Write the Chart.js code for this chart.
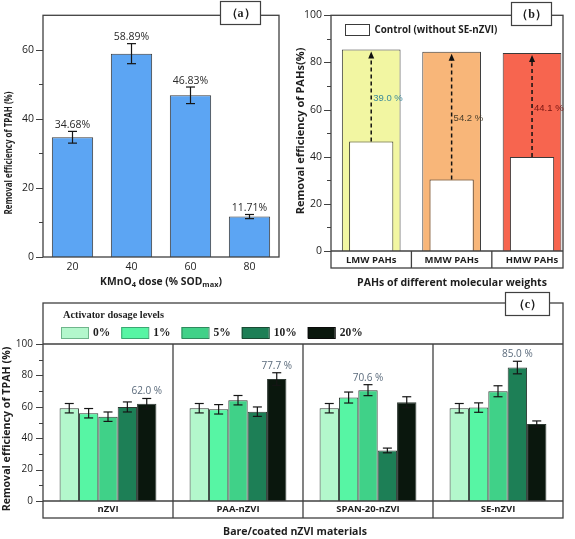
<!DOCTYPE html>
<html>
<head>
<meta charset="utf-8">
<title>TPAH removal</title>
<script src="https://cdn.jsdelivr.net/npm/chart.js@4.4.0/dist/chart.umd.min.js"></script>
<style>
  body { margin: 0; background: #fff; width: 575px; height: 539px; position: relative; overflow: hidden; }
  canvas { position: absolute; }
  #chartA { left: 0; top: 0; }
  #chartB { left: 285px; top: 0; }
  #chartC { left: 0; top: 290px; }
</style>
</head>
<body>
<canvas id="chartA" width="290" height="290"></canvas>
<canvas id="chartB" width="290" height="290"></canvas>
<canvas id="chartC" width="575" height="249"></canvas>
<script>
// (a) KMnO4 dose
const doseLabels = ['20', '40', '60', '80'];
const tpahRemoval = [34.68, 58.89, 46.83, 11.71];
const tpahError = [1.7, 2.9, 2.4, 0.6];

// (b) PAHs of different molecular weights
const pahGroups = ['LMW PAHs', 'MMW PAHs', 'HMW PAHs'];
const pahWithSE = [85.5, 84.5, 84.0];
const pahControl = [46.5, 30.3, 39.9];

// (c) bare / coated nZVI, one array per activator dosage level
const materials = ['nZVI', 'PAA-nZVI', 'SPAN-20-nZVI', 'SE-nZVI'];
const dosageLevels = ['0%', '1%', '5%', '10%', '20%'];
const dose0 = [59.1, 59.1, 59.1, 59.1];
const dose1 = [55.9, 58.4, 65.9, 59.5];
const dose5 = [53.7, 64.2, 70.6, 69.9];
const dose10 = [59.9, 56.9, 32.2, 85.0];
const dose20 = [62.0, 77.7, 62.9, 49.0];
const err0 = [3, 3, 3, 3];
const err1 = [3, 3, 3.5, 3];
const err5 = [3, 3, 3.5, 3.5];
const err10 = [3.2, 3, 1.5, 4];
const err20 = [3.3, 4, 3.5, 2];

const SANS = "'Open Sans', 'DejaVu Sans', sans-serif";
const SERIF = "'Liberation Serif', 'Times New Roman', serif";
const LINE = '#404040';
const TEXT = '#1e1e1e';

// text helper: segments may be subscripts; width fits the size,
// or squeezes the text when a size is given too
function drawRich(ctx, segs, cx, cy, o) {
  const measure = size => segs.reduce((w, s) => {
    ctx.font = `${o.weight} ${s.sub ? size * 0.72 : size}px ${o.family}`;
    return w + ctx.measureText(s.t).width;
  }, 0);
  let size = o.size, sx = 1;
  if (o.width && !o.size) size = 10 * o.width / measure(10);
  if (o.width && o.size) sx = o.width / measure(o.size);
  const total = measure(size);
  ctx.save();
  ctx.translate(cx, cy);
  if (o.rotate) ctx.rotate(-Math.PI / 2);
  ctx.scale(sx, 1);
  ctx.fillStyle = o.color || TEXT;
  ctx.textBaseline = 'middle';
  ctx.textAlign = 'left';
  let x = o.align === 'left' ? 0 : -total / 2;
  segs.forEach(s => {
    ctx.font = `${o.weight} ${s.sub ? size * 0.72 : size}px ${o.family}`;
    ctx.fillText(s.t, x, s.sub ? size * 0.3 : 0);
    x += ctx.measureText(s.t).width;
  });
  ctx.restore();
}

function drawTag(ctx, text, x, y, w, h) {
  ctx.save();
  ctx.fillStyle = '#fff';
  ctx.fillRect(x, y, w, h);
  ctx.strokeStyle = LINE;
  ctx.lineWidth = 1.2;
  ctx.strokeRect(x + 0.5, y + 0.5, w, h);
  ctx.fillStyle = TEXT;
  ctx.font = `bold 12px ${SERIF}`;
  ctx.textAlign = 'center';
  ctx.textBaseline = 'middle';
  ctx.fillText(text, x + w / 2 + 0.5, y + h / 2 + 1);
  ctx.restore();
}

function line(ctx, x1, y1, x2, y2) {
  ctx.beginPath();
  ctx.moveTo(x1, y1);
  ctx.lineTo(x2, y2);
  ctx.stroke();
}

function drawYTicks(chart, majorStep) {
  const y = chart.scales.y, ctx = chart.ctx, left = chart.chartArea.left;
  ctx.save();
  ctx.strokeStyle = LINE;
  ctx.lineWidth = 1;
  y.ticks.forEach(t => {
    if (t.value === y.max && y.max % majorStep !== 0) return;
    const py = Math.round(y.getPixelForValue(t.value)) + 0.5;
    const len = t.value % majorStep === 0 ? 7 : 4;
    line(ctx, left - len, py, left, py);
  });
  ctx.restore();
}

const errorBarPlugin = {
  id: 'errorBars',
  afterDatasetsDraw(chart) {
    const ctx = chart.ctx, yScale = chart.scales.y;
    ctx.save();
    ctx.strokeStyle = '#151515';
    ctx.lineWidth = 1.2;
    chart.data.datasets.forEach((ds, di) => {
      if (!ds.errors) return;
      chart.getDatasetMeta(di).data.forEach((bar, i) => {
        const v = ds.data[i], e = ds.errors[i];
        const top = yScale.getPixelForValue(v + e), bot = yScale.getPixelForValue(v - e);
        line(ctx, bar.x, top, bar.x, bot);
        line(ctx, bar.x - 4.5, top, bar.x + 4.5, top);
        line(ctx, bar.x - 4.5, bot, bar.x + 4.5, bot);
      });
    });
    ctx.restore();
  }
};

const hiddenGrid = { display: false, drawTicks: false };

// ---------- (a) ----------
new Chart(document.getElementById('chartA'), {
  type: 'bar',
  data: {
    labels: doseLabels,
    datasets: [{
      data: tpahRemoval,
      errors: tpahError,
      backgroundColor: '#5ca5f3',
      borderColor: '#3a3a3a',
      borderWidth: 1,
      barPercentage: 0.7,
      categoryPercentage: 1
    }]
  },
  options: {
    responsive: false,
    animation: false,
    layout: { padding: { top: 14, right: 11, left: 0, bottom: 0 } },
    plugins: { legend: { display: false }, tooltip: { enabled: false } },
    scales: {
      x: {
        grid: hiddenGrid, border: { display: false },
        ticks: { padding: 4, color: TEXT, font: { family: SANS, size: 10.5 } },
        afterFit: s => { s.height = 33; }
      },
      y: {
        min: 0, max: 70,
        grid: hiddenGrid, border: { display: false },
        ticks: { stepSize: 10, padding: 9, color: TEXT, font: { family: SANS, size: 10.5 },
                 callback: v => (v % 20 === 0 ? v : '') },
        afterFit: s => { s.width = 43; }
      }
    }
  },
  plugins: [errorBarPlugin, {
    id: 'decorA',
    afterDraw(chart) {
      const ctx = chart.ctx, a = chart.chartArea, y = chart.scales.y;
      ctx.save();
      ctx.strokeStyle = LINE;
      ctx.lineWidth = 1.3;
      ctx.strokeRect(a.left, a.top, a.right - a.left, a.bottom - a.top);
      ctx.restore();
      drawYTicks(chart, 20);
      // value labels above the error bars
      const meta = chart.getDatasetMeta(0);
      ctx.save();
      ctx.fillStyle = '#2a2a2a';
      ctx.font = `10.5px ${SANS}`;
      ctx.textAlign = 'center';
      ctx.textBaseline = 'bottom';
      meta.data.forEach((bar, i) => {
        const top = y.getPixelForValue(tpahRemoval[i] + tpahError[i]);
        ctx.fillText(tpahRemoval[i].toFixed(2) + '%', bar.x, top - 1);
      });
      ctx.restore();
      drawRich(ctx, [{ t: 'Removal efficiency of TPAH (%)' }], 9.5, 153, { weight: 'bold', family: SANS, size: 10.5, width: 123, rotate: true });
      drawRich(ctx, [{ t: 'KMnO' }, { t: '4', sub: true }, { t: ' dose (% SOD' }, { t: 'max', sub: true }, { t: ')' }],
        161, 282, { weight: 'bold', family: SANS, width: 122 });
      drawTag(ctx, '（a）', 220, 1, 40, 23);
    }
  }]
});

// ---------- (b) ----------
const bColors = ['#f2f6a2', '#f8b679', '#f7654f'];
const bLabelColors = ['#3b8a9a', '#4a3f2c', '#761410'];
new Chart(document.getElementById('chartB'), {
  type: 'bar',
  data: {
    datasets: [{
      label: 'Control (without SE-nZVI)',
      data: pahGroups.map((g, i) => ({ x: i + 1, y: pahControl[i] })),
      backgroundColor: '#ffffff',
      borderColor: '#3a3a3a',
      borderWidth: 1,
      barPercentage: 0.55,
      categoryPercentage: 1,
      grouped: false
    }, {
      label: 'With SE-nZVI',
      data: pahGroups.map((g, i) => ({ x: i + 1, y: pahWithSE[i] })),
      backgroundColor: bColors,
      borderColor: '#3a3a3a',
      borderWidth: 1,
      barPercentage: 0.73,
      categoryPercentage: 1,
      grouped: false
    }]
  },
  options: {
    responsive: false,
    animation: false,
    layout: { padding: { top: 14, right: 12, left: 0, bottom: 0 } },
    plugins: { legend: { display: false }, tooltip: { enabled: false } },
    scales: {
      x: {
        type: 'linear', offset: false, min: 0.5, max: 3.385,
        grid: hiddenGrid, border: { display: false },
        afterBuildTicks: s => { s.ticks = pahGroups.map((g, i) => ({ value: i + 1 })); },
        ticks: { padding: 4, color: TEXT, font: { family: SANS, size: 9.5, weight: 'bold' },
                 callback: v => pahGroups[v - 1] },
        afterFit: s => { s.height = 39; }
      },
      y: {
        min: 0, max: 100,
        grid: hiddenGrid, border: { display: false },
        ticks: { stepSize: 10, padding: 9, color: TEXT, font: { family: SANS, size: 10.5 },
                 callback: v => (v % 20 === 0 ? v : '') },
        afterFit: s => { s.width = 46; }
      }
    }
  },
  plugins: [{
    id: 'decorB',
    afterDraw(chart) {
      const ctx = chart.ctx, a = chart.chartArea, x = chart.scales.x, y = chart.scales.y;
      const band = a.bottom + 17;
      ctx.save();
      ctx.strokeStyle = LINE;
      ctx.lineWidth = 1.3;
      ctx.strokeRect(a.left, a.top, a.right - a.left, band - a.top);
      line(ctx, a.left, a.bottom, a.right, a.bottom);
      [1.5, 2.5].forEach(v => {
        const px = x.getPixelForValue(v);
        line(ctx, px, a.bottom, px, band);
      });
      ctx.restore();
      drawYTicks(chart, 20);
      // dashed arrows from control to SE-nZVI level
      const meta = chart.getDatasetMeta(1);
      meta.data.forEach((bar, i) => {
        const y0 = y.getPixelForValue(pahControl[i]);
        const y1 = y.getPixelForValue(pahWithSE[i]) + 2;
        ctx.save();
        ctx.strokeStyle = '#111';
        ctx.lineWidth = 1.5;
        ctx.setLineDash([4, 3]);
        line(ctx, bar.x, y0, bar.x, y1 + 5);
        ctx.setLineDash([]);
        ctx.fillStyle = '#111';
        ctx.beginPath();
        ctx.moveTo(bar.x, y1);
        ctx.lineTo(bar.x - 3, y1 + 7);
        ctx.lineTo(bar.x + 3, y1 + 7);
        ctx.closePath();
        ctx.fill();
        const gain = pahWithSE[i] - pahControl[i];
        const ym = y.getPixelForValue((pahWithSE[i] + pahControl[i]) / 2) + 3;
        ctx.fillStyle = bLabelColors[i];
        ctx.font = `9.5px 'Liberation Sans', sans-serif`;
        ctx.textAlign = 'left';
        ctx.textBaseline = 'middle';
        ctx.fillText(gain.toFixed(1) + ' %', bar.x + 2, ym);
        ctx.restore();
      });
      // legend
      ctx.save();
      ctx.fillStyle = '#fff';
      ctx.strokeStyle = '#3a3a3a';
      ctx.lineWidth = 1;
      ctx.fillRect(60, 24, 24, 11);
      ctx.strokeRect(60.5, 24.5, 24, 11);
      ctx.restore();
      drawRich(ctx, [{ t: chart.data.datasets[0].label }], 89.5, 30, { weight: 'bold', family: SANS, width: 123, align: 'left' });
      drawRich(ctx, [{ t: 'Removal efficiency of PAHs(%)' }], 16, 131, { weight: 'bold', family: SANS, width: 167, rotate: true });
      drawRich(ctx, [{ t: 'PAHs of different molecular weights' }], 167, 283, { weight: 'bold', family: SANS, width: 190 });
      drawTag(ctx, '（b）', 226, 2, 40, 23);
    }
  }]
});

// ---------- (c) ----------
const cSeries = [dose0, dose1, dose5, dose10, dose20];
const cErrors = [err0, err1, err5, err10, err20];
const cColors = ['#b3f7cc', '#57f5a4', '#40d188', '#1d7f56', '#0a170d'];
const cBorders = ['#6fb58b', '#3aa872', '#2f8a5d', '#1a4a33', '#0a0a0a'];
new Chart(document.getElementById('chartC'), {
  type: 'bar',
  data: {
    labels: materials,
    datasets: dosageLevels.map((lvl, k) => ({
      label: lvl,
      data: cSeries[k],
      errors: cErrors[k],
      backgroundColor: cColors[k],
      borderColor: '#2e3a33',
      borderWidth: 1,
      barPercentage: 1,
      categoryPercentage: 0.745
    }))
  },
  options: {
    responsive: false,
    animation: false,
    layout: { padding: { top: 54, right: 12, left: 0, bottom: 0 } },
    plugins: { legend: { display: false }, tooltip: { enabled: false } },
    scales: {
      x: {
        grid: hiddenGrid, border: { display: false },
        ticks: { padding: 3, color: TEXT, font: { family: SANS, size: 9.5, weight: 'bold' } },
        afterFit: s => { s.height = 38; }
      },
      y: {
        min: 0, max: 100,
        grid: hiddenGrid, border: { display: false },
        ticks: { stepSize: 10, padding: 10, color: TEXT, font: { family: SANS, size: 10 },
                 callback: v => (v % 20 === 0 ? v : '') },
        afterFit: s => { s.width = 43; }
      }
    }
  },
  plugins: [errorBarPlugin, {
    id: 'decorC',
    afterDraw(chart) {
      const ctx = chart.ctx, a = chart.chartArea, x = chart.scales.x, y = chart.scales.y;
      const frameTop = 13, band = a.bottom + 17;
      ctx.save();
      ctx.strokeStyle = LINE;
      ctx.lineWidth = 1.3;
      ctx.strokeRect(a.left, frameTop, a.right - a.left, band - frameTop);
      line(ctx, a.left, a.top, a.right, a.top);
      line(ctx, a.left, a.bottom, a.right, a.bottom);
      for (let i = 0; i < materials.length - 1; i++) {
        const px = (x.getPixelForValue(i) + x.getPixelForValue(i + 1)) / 2;
        line(ctx, px, a.top, px, band);
      }
      ctx.restore();
      drawYTicks(chart, 20);
      // peak labels per material
      ctx.save();
      ctx.fillStyle = '#5b6b7c';
      ctx.font = `10px ${SANS}`;
      ctx.textAlign = 'center';
      ctx.textBaseline = 'middle';
      materials.forEach((m, i) => {
        let best = 0;
        cSeries.forEach((s, k) => { if (s[i] > cSeries[best][i]) best = k; });
        const bar = chart.getDatasetMeta(best).data[i];
        const top = y.getPixelForValue(cSeries[best][i] + cErrors[best][i]);
        ctx.fillText(cSeries[best][i].toFixed(1) + ' %', bar.x, top - 7);
      });
      ctx.restore();
      // legend
      drawRich(ctx, [{ t: 'Activator dosage levels' }], 63, 25, { weight: 'bold', family: SERIF, width: 101, align: 'left' });
      let lx = 61;
      dosageLevels.forEach((lvl, k) => {
        ctx.save();
        ctx.fillStyle = cColors[k];
        ctx.fillRect(lx, 37, 27, 11);
        ctx.strokeStyle = cBorders[k];
        ctx.lineWidth = 1;
        ctx.strokeRect(lx + 0.5, 37.5, 27, 11);
        ctx.font = `bold 11.5px ${SERIF}`;
        ctx.fillStyle = TEXT;
        ctx.textAlign = 'left';
        ctx.textBaseline = 'middle';
        ctx.fillText(lvl, lx + 32, 43);
        lx += 32 + ctx.measureText(lvl).width + 11;
        ctx.restore();
      });
      drawRich(ctx, [{ t: 'Removal efficiency of TPAH (%)' }], 7, 139, { weight: 'bold', family: SANS, width: 165, rotate: true });
      drawRich(ctx, [{ t: 'Bare/coated nZVI materials' }], 295, 242, { weight: 'bold', family: SANS, width: 144 });
      drawTag(ctx, '（c）', 505, 2, 44, 23);
    }
  }]
});
</script>
</body>
</html>
